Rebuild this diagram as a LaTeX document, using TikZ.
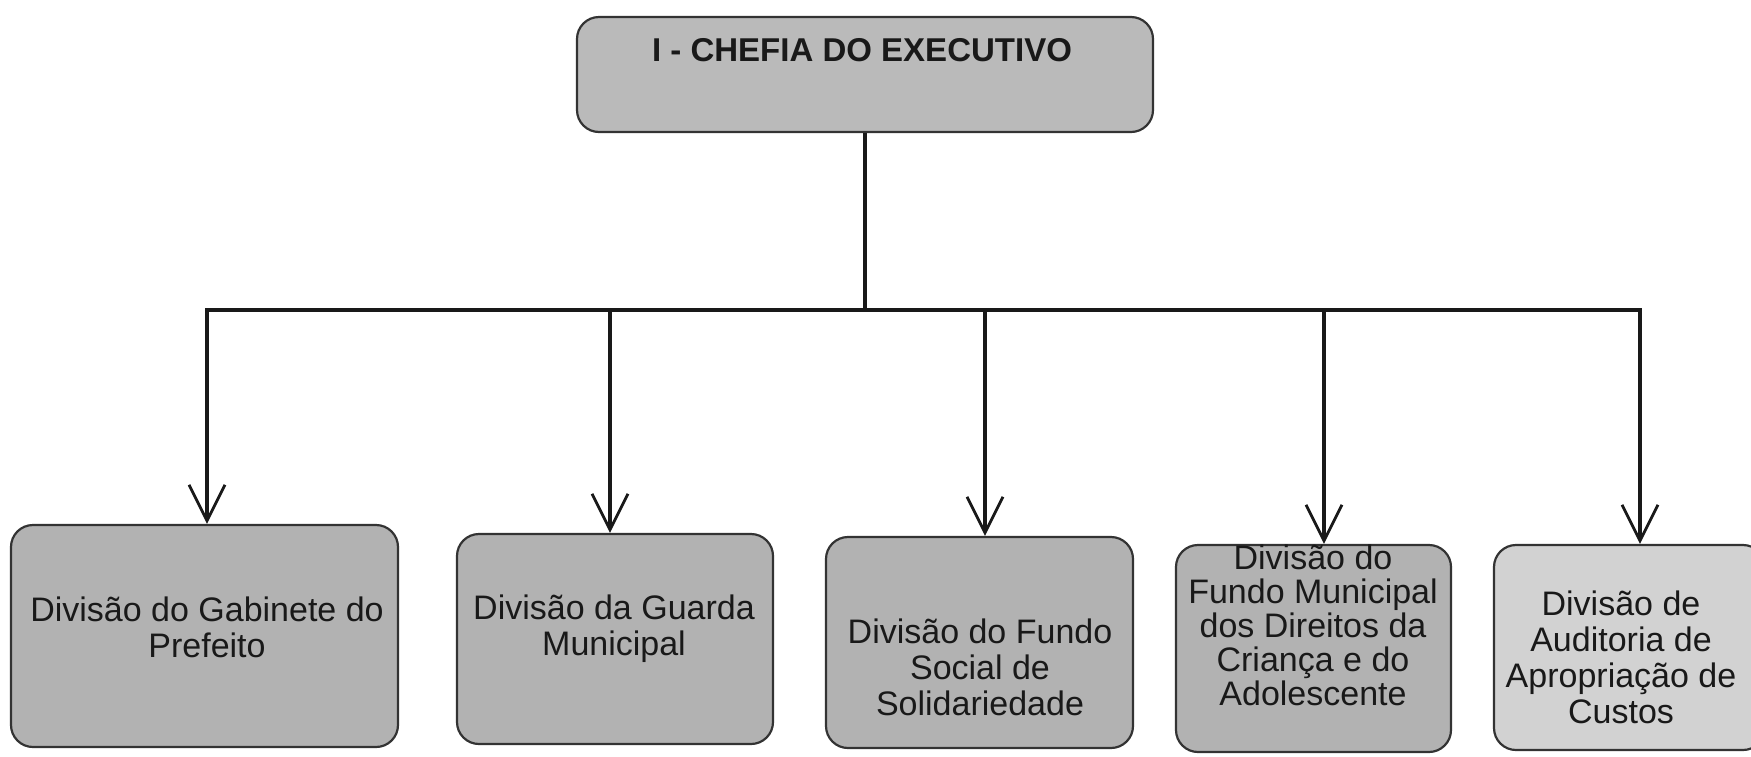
\documentclass[tikz,border=0pt]{standalone}
\usepackage{fontspec}
\setmainfont{Liberation Sans}
\usetikzlibrary{arrows.meta}
\definecolor{boxgray}{RGB}{178,178,178}
\definecolor{topgray}{RGB}{186,186,186}
\definecolor{palegray}{RGB}{210,210,210}
\begin{document}
\begin{tikzpicture}[x=0.5pt,y=-0.5pt,
  orgbox/.style={draw=black!80, line width=1.1pt, rounded corners=11pt, fill=boxgray, inner sep=0pt},
  boxtext/.style={align=center, inner sep=0pt, font=\fontsize{17}{18}\selectfont, text=black!90},
  conn/.style={line width=1.6pt, draw=black!90},
  arr/.style={conn, -{Straight Barb[length=18pt,width=18pt,line width=1.4pt]}}]
\useasboundingbox (0,0) rectangle (1751,756);

% top box
\node[orgbox, fill=topgray, minimum width=288pt, minimum height=57.5pt] (top) at (865,74.5) {};
\node[boxtext, font=\fontsize{16.5}{18}\selectfont\bfseries] (ttop) at (862,50) {I - CHEFIA DO EXECUTIVO};

% division boxes
\node[orgbox, minimum width=193.5pt, minimum height=111pt] (b1) at (204.5,636) {};
\node[orgbox, minimum width=158pt, minimum height=105pt] (b2) at (615,639) {};
\node[orgbox, minimum width=153.5pt, minimum height=105.5pt] (b3) at (979.5,642.5) {};
\node[orgbox, minimum width=137.5pt, minimum height=103.5pt] (b4) at (1313.5,648.5) {};
\node[orgbox, fill=palegray, minimum width=135.5pt, minimum height=102.5pt] (b5) at (1629.5,647.5) {};

\node[boxtext] (t1) at (207,627) {Divisão do Gabinete do\\Prefeito};
\node[boxtext] (t2) at (614,629) {Divisão da Guarda\\Municipal};
\node[boxtext] (t3) at (980,667) {Divisão do Fundo\\Social de\\Solidariedade};
\node[boxtext, font=\fontsize{17}{17}\selectfont] (t4) at (1313,625) {Divisão do\\Fundo Municipal\\dos Direitos da\\Criança e do\\Adolescente};
\node[boxtext] (t5) at (1621,657) {Divisão de\\Auditoria de\\Apropriação de\\Custos};

% bus
\coordinate (bus) at (865,310);
\coordinate (j1) at (207,310);
\coordinate (j2) at (610,310);
\coordinate (j3) at (985,310);
\coordinate (j4) at (1324,310);
\coordinate (j5) at (1640,310);

\draw[conn] (top.south) -- (top.south |- bus);
\draw[conn, line cap=rect] (j1) -- (j5);
\draw[arr] (j1) -- (j1 |- b1.north);
\draw[arr] (j2) -- (j2 |- b2.north);
\draw[arr] (j3) -- (j3 |- b3.north);
\draw[arr] (j4) -- (j4 |- b4.north);
\draw[arr] (j5) -- (j5 |- b5.north);
\end{tikzpicture}
\end{document}
